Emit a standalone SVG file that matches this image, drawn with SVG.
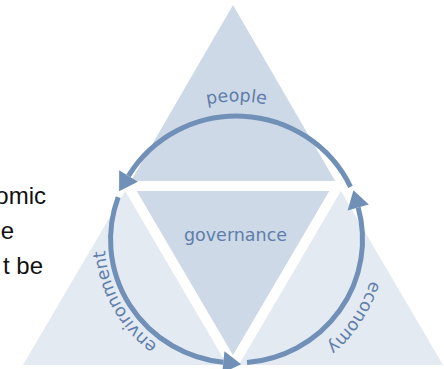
<svg xmlns="http://www.w3.org/2000/svg" xmlns:xlink="http://www.w3.org/1999/xlink" width="444" height="369" viewBox="0 0 444 369">
  <style>
    .lbl { font-family: "DejaVu Sans", "Liberation Sans", sans-serif; font-size: 17.5px; fill: #5f7eaa; }
    .side { font-family: "Liberation Sans", Arial, sans-serif; font-size: 24px; fill: #111111; }
    .arc { fill: none; stroke: #7090b8; stroke-width: 5; marker-end: url(#ah); }
    .dark { fill: #cdd9e6; }
    .light { fill: #e4eaf2; }
  </style>
  <defs>
    <marker id="ah" markerUnits="userSpaceOnUse" markerWidth="20" markerHeight="24" refX="0" refY="11" orient="auto" overflow="visible">
      <path d="M0,0 L18,11 L0,22 z" fill="#7090b8"/>
    </marker>
    <path id="p-people" d="M106.8,192.3 A138,138 0 0 1 366.2,192.3"/>
    <path id="p-env" d="M211.3,369.1 A132,132 0 0 1 113.3,192.2"/>
    <path id="p-eco" d="M370.7,199.7 A140,140 0 0 1 252.3,378.6"/>
  </defs>

  <g id="side-text">
    <text class="side" x="46" y="204" text-anchor="end">omic</text>
    <text class="side" x="14" y="239" text-anchor="end">e</text>
    <text class="side" x="43" y="274" text-anchor="end">t be</text>
  </g>

  <g id="node-people">
    <polygon class="dark" points="233,5 128,186 338,186"/>
    <text class="lbl"><textPath xlink:href="#p-people" href="#p-people" startOffset="50%" text-anchor="middle">people</textPath></text>
  </g>
  <g id="node-environment">
    <polygon class="light" points="128,186 23,365 233,365"/>
    <text class="lbl"><textPath xlink:href="#p-env" href="#p-env" startOffset="50%" text-anchor="middle">environment</textPath></text>
  </g>
  <g id="node-economy">
    <polygon class="light" points="338,186 233,365 443,365"/>
    <text class="lbl"><textPath xlink:href="#p-eco" href="#p-eco" startOffset="50%" text-anchor="middle">economy</textPath></text>
  </g>
  <g id="node-governance">
    <polygon class="dark" points="128,186 338,186 233,365" stroke="#ffffff" stroke-width="10" stroke-linejoin="miter"/>
    <text class="lbl" x="235.5" y="241" text-anchor="middle">governance</text>
  </g>

  <g id="connectors">
    <path class="arc" d="M350.5,186.9 A126,123.5 0 0 0 128.5,175.9"/>
    <path class="arc" d="M118.2,197.1 A126,123.5 0 0 0 223.3,362.3"/>
    <path class="arc" d="M247,362.6 A126,123.5 0 0 0 358.2,207.5"/>
  </g>
</svg>
